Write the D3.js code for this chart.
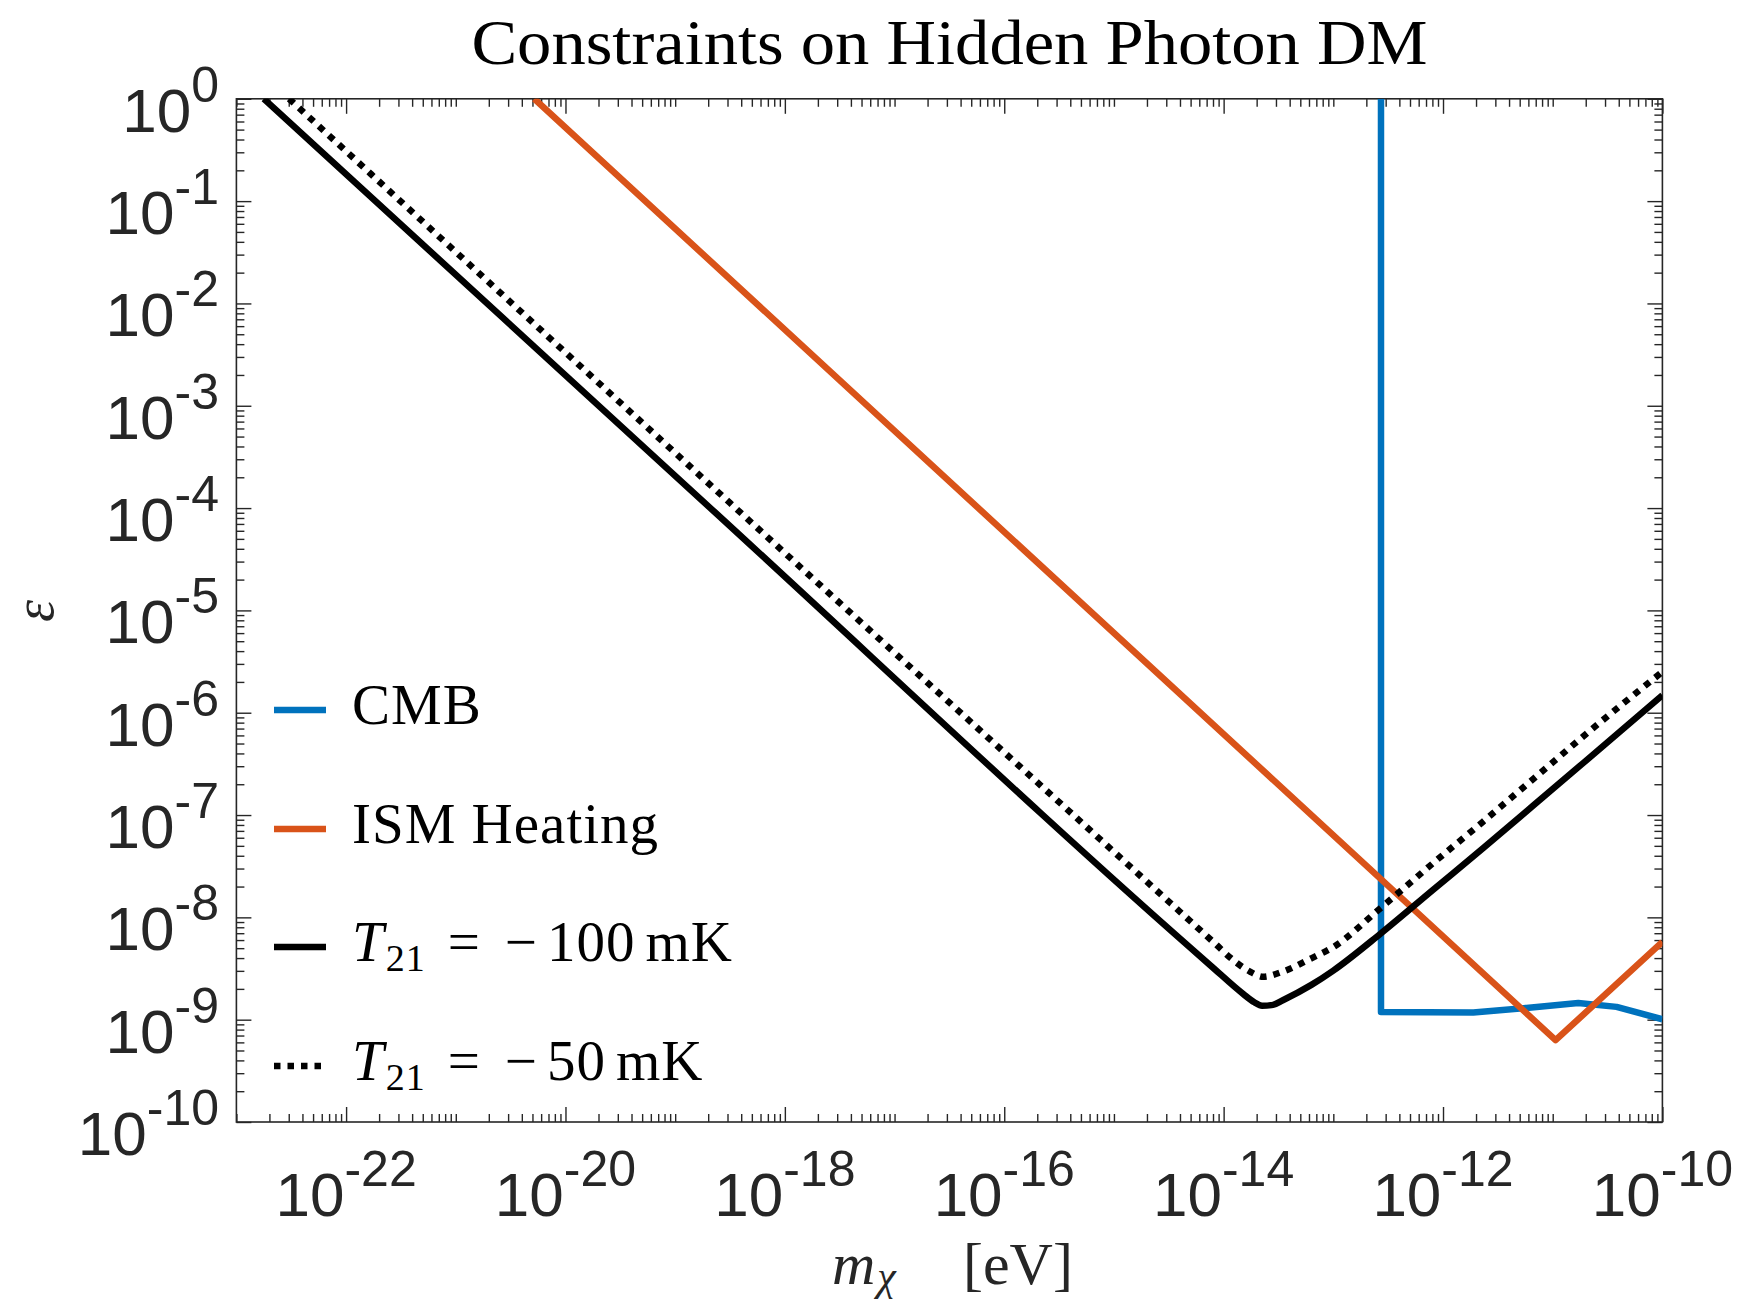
<!DOCTYPE html>
<html><head><meta charset="utf-8">
<script src="https://cdn.jsdelivr.net/npm/d3@7"></script>
<style>body{margin:0;background:#fff} svg{display:block}</style>
</head><body>
<svg id="chart" width="1740" height="1305"></svg>
<script>
// ---------- data ----------
const titleText = "Constraints on Hidden Photon DM";
const xTickExponents = ["-22", "-20", "-18", "-16", "-14", "-12", "-10"];
const yTickExponents = ["0", "-1", "-2", "-3", "-4", "-5", "-6", "-7", "-8", "-9", "-10"];
const legendLabels = ["CMB", "ISM Heating", "T21 = -100 mK", "T21 = -50 mK"];

const cmbMass = [2.72e-13, 2.72e-13, 1.888e-12, 5.75e-12, 1.71e-11, 3.82e-11, 1e-10];
const cmbEps  = [1, 1.19e-9, 1.175e-9, 1.303e-9, 1.459e-9, 1.334e-9, 1.01e-9];

const ismMass = [5.2e-21, 1.062e-11, 1e-10];
const ismEps  = [1, 6.31e-10, 5.75e-9];

const t100Mass = [1.778e-23, 2.0e-19, 7.59e-15, 1.514e-14, 1.905e-14, 2.239e-14, 2.818e-14, 3.467e-14, 6.31e-14, 1e-13, 2.69e-13, 8.13e-13, 2.344e-12, 6.61e-12, 1.905e-11, 1e-10];
const t100Eps  = [1, 1.047e-4, 3.39e-9, 1.778e-9, 1.479e-9, 1.365e-9, 1.396e-9, 1.549e-9, 2.188e-9, 3.02e-9, 6.92e-9, 1.862e-8, 4.786e-8, 1.23e-7, 3.236e-7, 1.479e-6];

const t50Mass = [3.02e-23, 3.16e-19, 8.32e-15, 1.23e-14, 1.738e-14, 2.291e-14, 3.467e-14, 6.31e-14, 1e-13, 2.69e-13, 8.13e-13, 2.344e-12, 6.61e-12, 1.905e-11, 1e-10];
const t50Eps  = [1, 1.122e-4, 5.56e-9, 3.80e-9, 2.951e-9, 2.63e-9, 2.951e-9, 3.98e-9, 5.13e-9, 1.23e-8, 3.39e-8, 8.71e-8, 2.239e-7, 5.89e-7, 2.512e-6];

// ---------- layout ----------
const W = 1740, H = 1305;
const L = 236.4, R = 1662.4, T = 98.8, B = 1122;
const axisColor = "#262626";
const sansFont = "'Liberation Sans', Arial, Helvetica, sans-serif";
const serifFont = "'Liberation Serif', 'Times New Roman', serif";

const svg = d3.select("#chart");
svg.append("rect").attr("width", W).attr("height", H).attr("fill", "#fff");

const x = d3.scaleLog().domain([1e-23, 1e-10]).range([L, R]);
const y = d3.scaleLog().domain([1e-10, 1]).range([B, T]);

// tick values
const xMajor = xTickExponents.map(e => Math.pow(10, +e));
const yMajor = yTickExponents.map(e => Math.pow(10, +e));
const xMinor = [], yMinor = [];
for (let e = -23; e < -10; e++) {
  for (let k = 1; k <= 9; k++) {
    const v = k * Math.pow(10, e);
    if (!xTickExponents.includes(String(e)) || k !== 1) xMinor.push(v);
  }
}
for (let e = -10; e < 0; e++) {
  for (let k = 2; k <= 9; k++) yMinor.push(k * Math.pow(10, e));
}

function styleAxis(g) {
  g.select(".domain").remove();
  g.selectAll("line").attr("stroke", axisColor).attr("stroke-width", 1.4);
  g.selectAll("text").remove();
}
const axes = svg.append("g");
axes.append("g").attr("transform", `translate(0,${B})`).call(d3.axisBottom(x).tickValues(xMajor).tickSize(-15).tickFormat("")).call(styleAxis);
axes.append("g").attr("transform", `translate(0,${B})`).call(d3.axisBottom(x).tickValues(xMinor).tickSize(-8).tickFormat("")).call(styleAxis);
axes.append("g").attr("transform", `translate(0,${T})`).call(d3.axisTop(x).tickValues(xMajor).tickSize(-15).tickFormat("")).call(styleAxis);
axes.append("g").attr("transform", `translate(0,${T})`).call(d3.axisTop(x).tickValues(xMinor).tickSize(-8).tickFormat("")).call(styleAxis);
axes.append("g").attr("transform", `translate(${L},0)`).call(d3.axisLeft(y).tickValues(yMajor).tickSize(-15).tickFormat("")).call(styleAxis);
axes.append("g").attr("transform", `translate(${L},0)`).call(d3.axisLeft(y).tickValues(yMinor).tickSize(-8).tickFormat("")).call(styleAxis);
axes.append("g").attr("transform", `translate(${R},0)`).call(d3.axisRight(y).tickValues(yMajor).tickSize(-15).tickFormat("")).call(styleAxis);
axes.append("g").attr("transform", `translate(${R},0)`).call(d3.axisRight(y).tickValues(yMinor).tickSize(-8).tickFormat("")).call(styleAxis);

axes.append("rect").attr("x", L).attr("y", T).attr("width", R - L).attr("height", B - T)
  .attr("fill", "none").attr("stroke", axisColor).attr("stroke-width", 1.6);

// tick labels
const xl = svg.append("g").attr("font-family", sansFont).attr("fill", axisColor);
xTickExponents.forEach((e, i) => {
  const t = xl.append("text").attr("x", x(xMajor[i])).attr("y", 1216)
    .attr("text-anchor", "middle").attr("font-size", 62);
  t.append("tspan").text("10");
  t.append("tspan").attr("font-size", 50).attr("dy", -30).text(e);
});
const yl = svg.append("g").attr("font-family", sansFont).attr("fill", axisColor);
yTickExponents.forEach((e, i) => {
  const t = yl.append("text").attr("x", 219).attr("y", y(yMajor[i]) + 33)
    .attr("text-anchor", "end").attr("font-size", 62);
  t.append("tspan").text("10");
  t.append("tspan").attr("font-size", 50).attr("dy", -30).text(e);
});

// title
svg.append("text").attr("x", (L + R) / 2).attr("y", 64).attr("text-anchor", "middle")
  .attr("font-family", serifFont).attr("font-size", 64).attr("fill", "#000")
  .attr("textLength", 956).attr("lengthAdjust", "spacingAndGlyphs").text(titleText);

// x label
const xlab = svg.append("text").attr("y", 1284).attr("font-family", serifFont).attr("font-size", 60).attr("fill", "#262626");
xlab.append("tspan").attr("x", 832).attr("font-style", "italic").text("m");
xlab.append("tspan").attr("font-style", "italic").attr("font-size", 42).attr("dy", 6).attr("dx", 2).text("χ");
xlab.append("tspan").attr("x", 963).attr("dy", -6).text("[eV]");

// y label
svg.append("text").attr("transform", "translate(53,611) rotate(-90)").attr("text-anchor", "middle")
  .attr("font-family", serifFont).attr("font-style", "italic").attr("font-size", 56).attr("fill", "#262626").text("ε");

// ---------- lines ----------
svg.append("clipPath").attr("id", "plotClip").append("rect")
  .attr("x", L).attr("y", T).attr("width", R - L).attr("height", B - T);
const plot = svg.append("g").attr("clip-path", "url(#plotClip)");

const lineLin = d3.line().x(d => x(d[0])).y(d => y(d[1]));
const lineSmooth = d3.line().x(d => x(d[0])).y(d => y(d[1])).curve(d3.curveMonotoneX);

const zip = (a, b) => a.map((v, i) => [v, b[i]]);

const series = [
  { name: legendLabels[0], data: zip(cmbMass, cmbEps), color: "#0072BD", dash: null, gen: lineLin },
  { name: legendLabels[1], data: zip(ismMass, ismEps), color: "#D95319", dash: null, gen: lineLin },
  { name: legendLabels[2], data: zip(t100Mass, t100Eps), color: "#000000", dash: null, gen: lineSmooth },
  { name: legendLabels[3], data: zip(t50Mass, t50Eps), color: "#000000", dash: "6.5,7", gen: lineSmooth }
];

series.forEach(s => {
  plot.append("path").attr("d", s.gen(s.data)).attr("fill", "none")
    .attr("stroke", s.color).attr("stroke-width", 6.5)
    .attr("stroke-linejoin", "round")
    .attr("stroke-dasharray", s.dash);
});

// ---------- legend ----------
const legendRows = [710, 829, 947, 1066];
const lg = svg.append("g");
series.forEach((s, i) => {
  const yy = legendRows[i];
  lg.append("line").attr("x1", 274).attr("x2", 326).attr("y1", yy).attr("y2", yy)
    .attr("stroke", s.color).attr("stroke-width", 6.5).attr("stroke-dasharray", s.dash);
  const t = lg.append("text").attr("x", 352).attr("y", yy + 14)
    .attr("font-family", serifFont).attr("font-size", 57).attr("letter-spacing", 1).attr("fill", "#000");
  if (i < 2) {
    t.text(s.name);
  } else {
    const parts = s.name.match(/^T21 = -(\d+) mK$/);
    t.append("tspan").attr("font-style", "italic").text("T");
    t.append("tspan").attr("font-size", 38).attr("dy", 10).attr("dx", 1).text("21");
    t.append("tspan").attr("dy", -10).attr("dx", 22).text("=");
    t.append("tspan").attr("dx", 24).text("\u2212");
    t.append("tspan").attr("dx", 9).text(parts[1]);
    t.append("tspan").attr("dx", 10).text("mK");
  }
});
</script>
</body></html>
